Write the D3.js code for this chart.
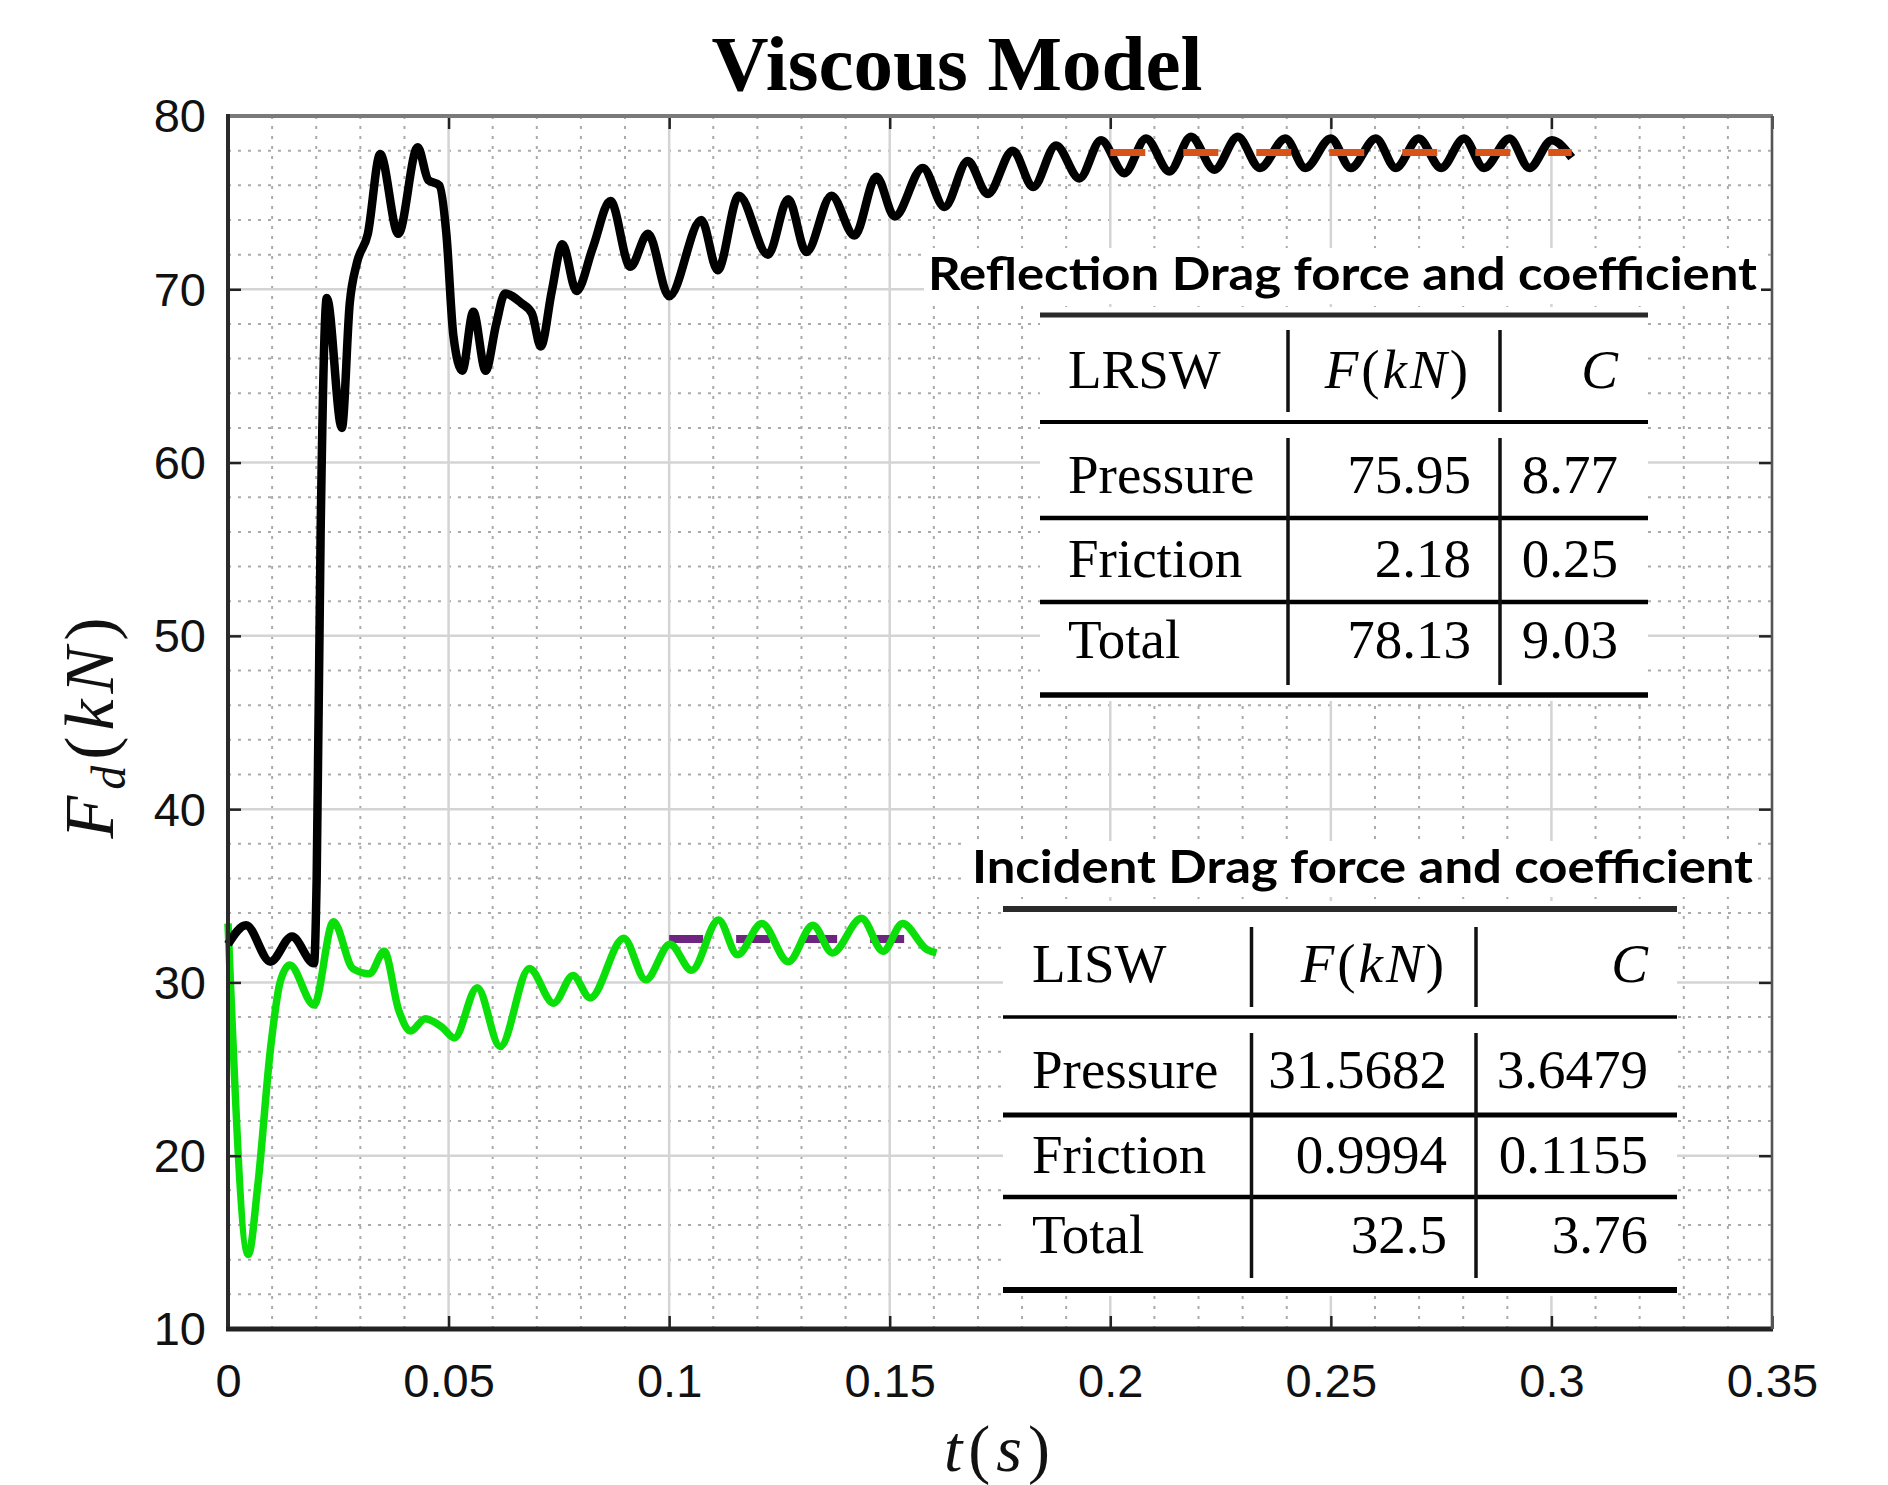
<!DOCTYPE html>
<html><head><meta charset="utf-8">
<script src="https://cdn.jsdelivr.net/npm/d3@7"></script>
<style>body{margin:0;background:#fff}svg{display:block}</style>
</head><body><svg id="c" width="1888" height="1485"></svg>
<script>
// ---------------- DATA ----------------
const chartTitle = "Viscous Model";
const xTickVals = [0, 0.05, 0.1, 0.15, 0.2, 0.25, 0.3, 0.35];
const xTickLabels = ["0", "0.05", "0.1", "0.15", "0.2", "0.25", "0.3", "0.35"];
const yTickVals = [10, 20, 30, 40, 50, 60, 70, 80];
const yTickLabels = ["10", "20", "30", "40", "50", "60", "70", "80"];

// Reflection (LRSW) drag force, black
const reflT = [0, 0.0041, 0.0096, 0.0145, 0.0195, 0.0201, 0.0210, 0.0224, 0.0258, 0.0276, 0.0292, 0.0317,
  0.0345, 0.0386, 0.0430, 0.0454, 0.0479, 0.0495, 0.0511, 0.0531, 0.0556, 0.0584, 0.0608, 0.0628,
  0.0665, 0.0689, 0.0709, 0.0734, 0.0758, 0.0790, 0.0827, 0.0867, 0.0912, 0.0952, 0.1000, 0.1073,
  0.1110, 0.1158, 0.1224, 0.1270, 0.1311, 0.1368, 0.1420, 0.1470, 0.1511, 0.1575, 0.1624, 0.1677,
  0.1722, 0.1779, 0.1825, 0.1877, 0.1930, 0.1979, 0.2032, 0.2081, 0.2134, 0.2183, 0.2236, 0.2289,
  0.2339, 0.2397, 0.2442, 0.2500, 0.2545, 0.2602, 0.2647, 0.2699, 0.2750, 0.2802, 0.2847, 0.2905,
  0.2950, 0.3001, 0.3046];
const reflF = [32.2, 33.3, 31.2, 32.65, 31.1, 36, 56, 69.5, 62.0, 69.2, 71.5, 73.2,
  77.8, 73.2, 78.2, 76.3, 76.0, 73.2, 67.3, 65.3, 68.7, 65.3, 68.0, 69.75,
  69.2, 68.6, 66.7, 69.9, 72.6, 69.9, 72.4, 75.1, 71.3, 73.2, 69.6, 74.0,
  71.1, 75.4, 72.0, 75.2, 72.15, 75.4, 73.1, 76.5, 74.2, 77.0, 74.75, 77.4,
  75.5, 78.0, 75.9, 78.3, 76.4, 78.6, 76.7, 78.7, 76.8, 78.8, 76.9, 78.8,
  77.0, 78.7, 77.0, 78.7, 77.0, 78.7, 77.0, 78.7, 77.0, 78.7, 77.0, 78.7,
  77.0, 78.6, 77.6];

// Incident (LISW) drag force, green
const incT = [0, 0.0046, 0.0068, 0.0096, 0.0118, 0.0140, 0.0195, 0.0239, 0.0283, 0.0321, 0.0354, 0.0387,
  0.0414, 0.0447, 0.0486, 0.0513, 0.0565, 0.0617, 0.0683, 0.0738, 0.0782, 0.0821, 0.0897, 0.0947,
  0.1002, 0.1051, 0.1112, 0.1155, 0.1210, 0.1270, 0.1326, 0.1370, 0.1436, 0.1485, 0.1529, 0.1584, 0.1606];
const incF = [33.4, 14.3, 18.4, 26.1, 30.0, 31.0, 28.7, 33.5, 30.8, 30.5, 31.8, 28.4,
  27.2, 27.9, 27.4, 26.8, 29.7, 26.3, 30.8, 28.8, 30.4, 29.1, 32.55, 30.15,
  32.2, 30.7, 33.6, 31.6, 33.4, 31.2, 33.3, 31.7, 33.7, 31.8, 33.4, 31.9, 31.7];

// mean lines
const reflMeanT = [0.2, 0.3046];
const reflMeanF = [77.9, 77.9];
const incMeanT = [0.1, 0.155];
const incMeanF = [32.5, 32.5];

// tables
const reflTableTitle = "Reflection Drag force and coefficient";
const reflTableHead = ["LRSW", "F(kN)", "C"];
const reflTableRows = [["Pressure", "75.95", "8.77"], ["Friction", "2.18", "0.25"], ["Total", "78.13", "9.03"]];
const incTableTitle = "Incident Drag force and coefficient";
const incTableHead = ["LISW", "F(kN)", "C"];
const incTableRows = [["Pressure", "31.5682", "3.6479"], ["Friction", "0.9994", "0.1155"], ["Total", "32.5", "3.76"]];

// ---------------- LAYOUT ----------------
const L = 228, R = 1772, T = 116, B = 1329;
const svg = d3.select("#c");
svg.append("rect").attr("width", 1888).attr("height", 1485).attr("fill", "#fff");
const x = d3.scaleLinear().domain([0, 0.35]).range([L, R]);
const y = d3.scaleLinear().domain([10, 80]).range([B, T]);

// minor grid
const minorX = d3.range(0, 0.3501, 0.01).filter(v => Math.abs(v / 0.05 - Math.round(v / 0.05)) > 1e-6);
const minorY = d3.range(10, 80.01, 2).filter(v => v % 10 !== 0);
const grid = svg.append("g");
grid.selectAll("line.mx").data(minorX).join("line")
  .attr("x1", d => x(d)).attr("x2", d => x(d)).attr("y1", T).attr("y2", B)
  .attr("stroke", "#aaaaaa").attr("stroke-width", 2).attr("stroke-dasharray", "3,7");
grid.selectAll("line.my").data(minorY).join("line")
  .attr("y1", d => y(d)).attr("y2", d => y(d)).attr("x1", L).attr("x2", R)
  .attr("stroke", "#aaaaaa").attr("stroke-width", 2).attr("stroke-dasharray", "3,7");
grid.selectAll("line.Mx").data(xTickVals).join("line")
  .attr("x1", d => x(d)).attr("x2", d => x(d)).attr("y1", T).attr("y2", B)
  .attr("stroke", "#d4d4d4").attr("stroke-width", 2.5);
grid.selectAll("line.My").data(yTickVals).join("line")
  .attr("y1", d => y(d)).attr("y2", d => y(d)).attr("x1", L).attr("x2", R)
  .attr("stroke", "#d4d4d4").attr("stroke-width", 2.5);

// series
const line = d3.line().x(d => x(d[0])).y(d => y(d[1])).curve(d3.curveMonotoneX);
const zip = (a, b) => a.map((v, i) => [v, b[i]]);
const plot = svg.append("g");
plot.append("path").datum(zip(incMeanT, incMeanF)).attr("d", line)
  .attr("fill", "none").attr("stroke", "#6E2582").attr("stroke-width", 8).attr("stroke-dasharray", "34,33");
plot.append("path").datum(zip(incT, incF)).attr("d", line)
  .attr("fill", "none").attr("stroke", "#0adf0a").attr("stroke-width", 7.5).attr("stroke-linejoin", "round");
plot.append("path").datum(zip(reflT, reflF)).attr("d", line)
  .attr("fill", "none").attr("stroke", "#000").attr("stroke-width", 8.5).attr("stroke-linejoin", "round");
plot.append("path").datum(zip(reflMeanT, reflMeanF)).attr("d", line)
  .attr("fill", "none").attr("stroke", "#D95319").attr("stroke-width", 7).attr("stroke-dasharray", "35,38");

// axes
const tickFont = "'Liberation Sans', Arial, sans-serif";
const gx = svg.append("g").attr("transform", `translate(0,${B})`)
  .call(d3.axisBottom(x).tickValues(xTickVals).tickFormat((d, i) => xTickLabels[i]).tickSizeInner(-13).tickSizeOuter(0).tickPadding(35));
const gy = svg.append("g").attr("transform", `translate(${L},0)`)
  .call(d3.axisLeft(y).tickValues(yTickVals).tickFormat((d, i) => yTickLabels[i]).tickSizeInner(-13).tickSizeOuter(0).tickPadding(22));
const gt = svg.append("g").attr("transform", `translate(0,${T})`)
  .call(d3.axisTop(x).tickValues(xTickVals).tickFormat("").tickSizeInner(-13).tickSizeOuter(0));
const gr = svg.append("g").attr("transform", `translate(${R},0)`)
  .call(d3.axisRight(y).tickValues(yTickVals).tickFormat("").tickSizeInner(-13).tickSizeOuter(0));
[gx, gy, gt, gr].forEach(g => {
  g.select(".domain").remove();
  g.selectAll(".tick line").attr("stroke", "#222").attr("stroke-width", 2.5);
  g.selectAll("text").attr("font-family", tickFont).attr("font-size", 47).attr("fill", "#111");
});
gy.selectAll("text").attr("dy", "0.34em");

// box
svg.append("line").attr("x1", L - 2).attr("x2", R + 1).attr("y1", T).attr("y2", T).attr("stroke", "#7a7a7a").attr("stroke-width", 4);
svg.append("line").attr("x1", L).attr("x2", L).attr("y1", T - 2).attr("y2", B + 2).attr("stroke", "#2a2a2a").attr("stroke-width", 4);
svg.append("line").attr("x1", L - 2).attr("x2", R + 1).attr("y1", B).attr("y2", B).attr("stroke", "#222").attr("stroke-width", 5);
svg.append("line").attr("x1", R).attr("x2", R).attr("y1", T).attr("y2", B).attr("stroke", "#555").attr("stroke-width", 2.5);

// title
svg.append("text").attr("x", 957).attr("y", 90).attr("text-anchor", "middle")
  .attr("font-family", "'Liberation Serif', 'Times New Roman', serif").attr("font-weight", "bold")
  .attr("font-size", 79).attr("fill", "#000").text(chartTitle);

// axis labels
const serif = "'Liberation Serif', 'Times New Roman', serif";
const xl = svg.append("text").attr("x", 1000).attr("y", 1471).attr("text-anchor", "middle")
  .attr("font-family", serif).attr("font-size", 66).attr("letter-spacing", 6).attr("fill", "#111");
xl.append("tspan").attr("font-style", "italic").text("t");
xl.append("tspan").text("(");
xl.append("tspan").attr("font-style", "italic").text("s");
xl.append("tspan").text(")");

const yl = svg.append("text").attr("transform", "translate(113,725) rotate(-90)").attr("text-anchor", "middle")
  .attr("font-family", serif).attr("font-size", 70).attr("letter-spacing", 6).attr("fill", "#111");
yl.append("tspan").attr("font-style", "italic").text("F");
yl.append("tspan").attr("font-style", "italic").attr("font-size", 48).attr("dy", 12).text("d");
yl.append("tspan").attr("dy", -12).text("(");
yl.append("tspan").attr("font-style", "italic").text("kN");
yl.append("tspan").text(")");

// tables
function drawTable(cfg, title, head, rows) {
  const g = svg.append("g");
  g.append("rect").attr("x", cfg.titleX - 4).attr("y", cfg.titleBase - 42)
    .attr("width", cfg.titleLen + 8).attr("height", 56).attr("fill", "#fff");
  g.append("text").attr("x", cfg.titleX).attr("y", cfg.titleBase)
    .attr("font-family", "Lato, 'Open Sans', sans-serif").attr("font-weight", "bold").attr("font-size", 46)
    .attr("textLength", cfg.titleLen).attr("lengthAdjust", "spacingAndGlyphs").attr("fill", "#000").text(title);
  g.append("rect").attr("x", cfg.left).attr("y", cfg.rules[0] - 8).attr("width", cfg.right - cfg.left)
    .attr("height", cfg.rules[cfg.rules.length - 1] - cfg.rules[0] + 14).attr("fill", "#fff");
  cfg.rules.forEach((r, i) => {
    g.append("line").attr("x1", cfg.left).attr("x2", cfg.right).attr("y1", r).attr("y2", r)
      .attr("stroke", i === 0 ? "#2a2a2a" : "#000").attr("stroke-width", cfg.ruleW[i]);
  });
  cfg.vlines.forEach(vx => {
    g.append("line").attr("x1", vx).attr("x2", vx).attr("y1", cfg.headV[0]).attr("y2", cfg.headV[1]).attr("stroke", "#111").attr("stroke-width", 3.5);
    g.append("line").attr("x1", vx).attr("x2", vx).attr("y1", cfg.bodyV[0]).attr("y2", cfg.bodyV[1]).attr("stroke", "#111").attr("stroke-width", 3.5);
  });
  const txt = (xx, yy, anchor) => g.append("text").attr("x", xx).attr("y", yy).attr("text-anchor", anchor)
    .attr("font-family", serif).attr("font-size", 55).attr("fill", "#000");
  txt(cfg.c0, cfg.headBase, "start").text(head[0]);
  const h1 = txt(cfg.c1, cfg.headBase, "end").attr("letter-spacing", 3);
  h1.append("tspan").attr("font-style", "italic").text(head[1].slice(0, 1));
  h1.append("tspan").text("(");
  h1.append("tspan").attr("font-style", "italic").text(head[1].slice(2, 4));
  h1.append("tspan").text(")");
  txt(cfg.c2, cfg.headBase, "end").attr("font-style", "italic").text(head[2]);
  rows.forEach((row, i) => {
    txt(cfg.c0, cfg.rowBase[i], "start").text(row[0]);
    txt(cfg.c1, cfg.rowBase[i], "end").text(row[1]);
    txt(cfg.c2, cfg.rowBase[i], "end").text(row[2]);
  });
}

drawTable({
  titleX: 928, titleBase: 290, titleLen: 829,
  left: 1040, right: 1648, rules: [315, 422, 518, 602, 695], ruleW: [5, 4, 4.5, 4.5, 5.5],
  vlines: [1288, 1500], headV: [330, 412], bodyV: [438, 685],
  c0: 1068, c1: 1471, c2: 1618, headBase: 388, rowBase: [493, 577, 658]
}, reflTableTitle, reflTableHead, reflTableRows);

drawTable({
  titleX: 972, titleBase: 883, titleLen: 781,
  left: 1003, right: 1677, rules: [909, 1017, 1115, 1197, 1290], ruleW: [6, 3.5, 5, 4.5, 6],
  vlines: [1251.5, 1476], headV: [927, 1007], bodyV: [1033, 1278],
  c0: 1032, c1: 1447, c2: 1648, headBase: 982, rowBase: [1088, 1173, 1253]
}, incTableTitle, incTableHead, incTableRows);
</script></body></html>
